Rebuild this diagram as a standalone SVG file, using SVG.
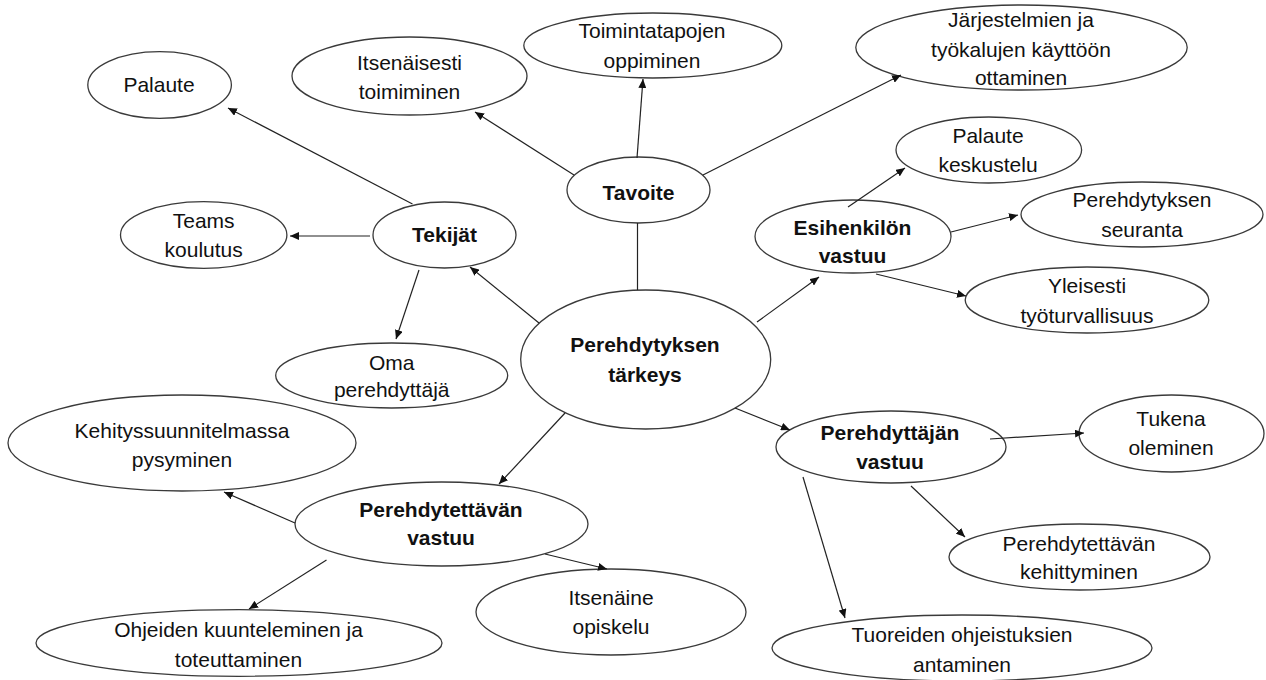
<svg xmlns="http://www.w3.org/2000/svg" width="1266" height="680" viewBox="0 0 1266 680">
<style>
.n ellipse{fill:#fff;stroke:#3a3a3a;stroke-width:1.3}
.n text{font-family:"Liberation Sans",Arial,sans-serif;font-size:21px;fill:#111;text-anchor:middle}
.b text{font-weight:bold}
#connectors line{stroke:#222;stroke-width:1.2}
.a{marker-end:url(#arr)}
</style>
<defs>
<marker id="arr" markerUnits="userSpaceOnUse" markerWidth="10" markerHeight="8" refX="9" refY="4" orient="auto">
<path d="M0,0 L9,4 L0,8 Z" fill="#111"/>
</marker>
</defs>
<rect width="1266" height="680" fill="#fff"/>
<g id="n-center" class="n b"><ellipse cx="645.7" cy="359.5" rx="125" ry="69.5"/><text x="645" y="352">Perehdytyksen</text><text x="645" y="382">tärkeys</text></g>
<g id="n-tavoite" class="n b"><ellipse cx="638.5" cy="190" rx="71.5" ry="33"/><text x="638.5" y="200">Tavoite</text></g>
<g id="n-itsenaisesti" class="n"><ellipse cx="409.5" cy="76" rx="117.5" ry="39"/><text x="409.5" y="70">Itsenäisesti</text><text x="409.5" y="99">toimiminen</text></g>
<g id="n-toimintatapojen" class="n"><ellipse cx="652.8" cy="45.5" rx="129" ry="32.5"/><text x="652" y="38">Toimintatapojen</text><text x="652" y="68">oppiminen</text></g>
<g id="n-jarjestelmien" class="n"><ellipse cx="1021.5" cy="47.5" rx="165.7" ry="42.5"/><text x="1021" y="27">Järjestelmien ja</text><text x="1021" y="57">työkalujen käyttöön</text><text x="1021" y="85">ottaminen</text></g>
<g id="n-palaute-keskustelu" class="n"><ellipse cx="988.8" cy="150" rx="92.8" ry="33"/><text x="988" y="143">Palaute</text><text x="988" y="172">keskustelu</text></g>
<g id="n-seuranta" class="n"><ellipse cx="1142" cy="214.5" rx="121" ry="32.5"/><text x="1142" y="207">Perehdytyksen</text><text x="1142" y="237">seuranta</text></g>
<g id="n-yleisesti" class="n"><ellipse cx="1087" cy="300" rx="121.8" ry="33"/><text x="1087" y="293">Yleisesti</text><text x="1087" y="323">työturvallisuus</text></g>
<g id="n-esihenkilon" class="n b"><ellipse cx="853" cy="236.5" rx="98" ry="36.5"/><text x="852.5" y="235">Esihenkilön</text><text x="852.5" y="263">vastuu</text></g>
<g id="n-palaute" class="n"><ellipse cx="159.6" cy="85" rx="71.8" ry="33.3"/><text x="159" y="92">Palaute</text></g>
<g id="n-teams" class="n"><ellipse cx="203.7" cy="235" rx="83.2" ry="33.3"/><text x="203.7" y="228">Teams</text><text x="203.7" y="257">koulutus</text></g>
<g id="n-tekijat" class="n b"><ellipse cx="444.5" cy="235" rx="71.5" ry="33"/><text x="444.5" y="242">Tekijät</text></g>
<g id="n-oma" class="n"><ellipse cx="391.7" cy="375.5" rx="116" ry="32.5"/><text x="391.7" y="370">Oma</text><text x="391.7" y="397">perehdyttäjä</text></g>
<g id="n-kehitys" class="n"><ellipse cx="182" cy="443" rx="174" ry="48"/><text x="182" y="438">Kehityssuunnitelmassa</text><text x="182" y="467">pysyminen</text></g>
<g id="n-perehdytettavan" class="n b"><ellipse cx="441.5" cy="524" rx="146.5" ry="42"/><text x="441" y="517">Perehdytettävän</text><text x="441" y="545">vastuu</text></g>
<g id="n-ohjeiden" class="n"><ellipse cx="239" cy="643" rx="203" ry="33.3"/><text x="238.5" y="637">Ohjeiden kuunteleminen ja</text><text x="238.5" y="667">toteuttaminen</text></g>
<g id="n-itsenaine" class="n"><ellipse cx="611" cy="612" rx="135" ry="43"/><text x="611" y="605">Itsenäine</text><text x="611" y="634">opiskelu</text></g>
<g id="n-perehdyttajan" class="n b"><ellipse cx="891" cy="447" rx="115" ry="36"/><text x="890" y="440">Perehdyttäjän</text><text x="890" y="469">vastuu</text></g>
<g id="n-tukena" class="n"><ellipse cx="1171.5" cy="433.5" rx="92.5" ry="38.5"/><text x="1171" y="426">Tukena</text><text x="1171" y="455">oleminen</text></g>
<g id="n-kehittyminen" class="n"><ellipse cx="1079.5" cy="557" rx="130.5" ry="33"/><text x="1079" y="551">Perehdytettävän</text><text x="1079" y="579">kehittyminen</text></g>
<g id="n-tuoreiden" class="n"><ellipse cx="962" cy="648" rx="190" ry="33"/><text x="962" y="642">Tuoreiden ohjeistuksien</text><text x="962" y="672">antaminen</text></g>
<g id="connectors">
<line class="a" x1="637" y1="158" x2="643" y2="79"/>
<line class="a" x1="574" y1="175" x2="475" y2="112"/>
<line class="a" x1="703" y1="175" x2="901" y2="75"/>
<line x1="637.5" y1="223" x2="637.5" y2="290"/>
<line class="a" x1="412.5" y1="204" x2="228" y2="108"/>
<line class="a" x1="370" y1="236" x2="290" y2="236"/>
<line class="a" x1="419" y1="270" x2="396" y2="339"/>
<line class="a" x1="539" y1="323" x2="470" y2="267"/>
<line class="a" x1="757" y1="322" x2="819" y2="277"/>
<line class="a" x1="848" y1="207" x2="905" y2="168"/>
<line class="a" x1="951" y1="232" x2="1018" y2="215"/>
<line class="a" x1="876" y1="274" x2="966" y2="296"/>
<line class="a" x1="735" y1="408" x2="790" y2="430"/>
<line class="a" x1="990" y1="439" x2="1084" y2="433"/>
<line class="a" x1="911" y1="486" x2="965" y2="537"/>
<line class="a" x1="803" y1="477" x2="845" y2="618"/>
<line class="a" x1="565" y1="413" x2="499" y2="484"/>
<line class="a" x1="295" y1="523" x2="224" y2="492"/>
<line class="a" x1="326.5" y1="560" x2="249" y2="609"/>
<line class="a" x1="545" y1="554" x2="607" y2="569"/>
</g>
</svg>
